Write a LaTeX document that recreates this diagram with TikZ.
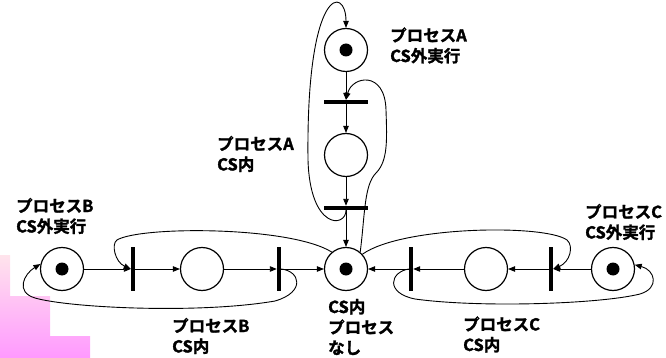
\documentclass[tikz,border=0pt]{standalone}
\usepackage{fontspec}
\newfontfamily\jp{Noto Sans CJK JP Bold}[FakeBold=1.6]
\usetikzlibrary{arrows.meta}
\definecolor{pinkTop}{RGB}{255,228,236}
\definecolor{pinkBot}{RGB}{255,153,255}
\begin{document}
\begin{tikzpicture}[x=1pt,y=-1pt,
  place/.style={circle, draw, line width=1.2pt, minimum size=43pt, inner sep=0pt},
  token/.style={circle, fill, minimum size=13pt, inner sep=0pt},
  vbar/.style={rectangle, fill, minimum width=4pt, minimum height=44pt, inner sep=0pt},
  hbar/.style={rectangle, fill, minimum width=44pt, minimum height=4pt, inner sep=0pt},
  arr/.style={-{Triangle[length=7pt,width=5.5pt]}, line width=0.9pt},
  lbl/.style={anchor=base west, inner sep=0pt, font=\jp\fontsize{16.5}{20.5}\selectfont}]
\useasboundingbox (0,0) rectangle (666,358);
% pink background block
\shade[top color=pinkTop, bottom color=pinkBot]
  (0,255) -- (10,255) -- (10,296) -- (50,296) -- (50,336) -- (90,336) -- (90,358) -- (0,358) -- cycle;
% places
\node[place] (pA0) at (346,50) {};
\node[place] (pA1) at (346,155) {};
\node[place] (pCS) at (346,269) {};
\node[place] (pBout) at (62,269) {};
\node[place] (pBin) at (202,269) {};
\node[place] (pCin) at (486,269) {};
\node[place] (pCout) at (613,269) {};
% tokens
\node[token] (kA0) at (pA0) {};
\node[token] (kCS) at (pCS) {};
\node[token] (kBout) at (pBout) {};
\node[token] (kCout) at (pCout) {};
% transitions
\node[hbar] (tA1) at (346,102) {};
\node[hbar] (tA2) at (346,208) {};
\node[vbar] (tB1) at (133,269) {};
\node[vbar] (tB2) at (279,269) {};
\node[vbar] (tC1) at (411,269) {};
\node[vbar] (tC2) at (551,269) {};
% straight arcs
\draw[arr] (pA0) -- (tA1);
\draw[arr] (tA1) -- (pA1);
\draw[arr] (pA1) -- (tA2);
\draw[arr] (tA2) -- (pCS);
\draw[arr] (pBout) -- (tB1);
\draw[arr] (tB1) -- (pBin);
\draw[arr] (pBin) -- (tB2);
\draw[arr] (tB2) -- (pCS);
\draw[arr] (pCout) -- (tC2);
\draw[arr] (tC2) -- (pCin);
\draw[arr] (pCin) -- (tC1);
\draw[arr] (tC1) -- (pCS);
% curved arcs
\draw[arr] (tA2.south) .. controls (346,228) and (310,230) .. (308,160)
  .. controls (306,-15) and (346,-15) .. (pA0.north);
\draw[arr] (pCS.50) .. controls (365,215) and (364,185) .. (376,173)
  .. controls (388,161) and (387,140) .. (386,110)
  .. controls (385,70) and (352,76) .. (tA1.north);
\draw[arr] (pCS.130) .. controls (290,226) and (140,226) .. (117,240)
  .. controls (111,244) and (115,262) .. (tB1.west);
\draw[arr] (tB2.east) .. controls (300,271) and (306,292) .. (275,301)
  .. controls (200,314) and (70,308) .. (35,298)
  .. controls (15,292) and (24,274) .. (pBout.167);
\draw[arr] (pCS.42) .. controls (402,226) and (545,224) .. (567,240)
  .. controls (574,246) and (570,262) .. (tC2.east);
\draw[arr] (tC1.west) .. controls (390,272) and (385,293) .. (415,299)
  .. controls (480,308) and (600,304) .. (640,294)
  .. controls (660,288) and (655,270) .. (pCout.11);
% labels
\node[lbl] (lAout) at (390,41.5) {\begin{tabular}[t]{@{}l@{}}プロセスA\\CS外実行\end{tabular}};
\node[lbl] (lAin) at (217,150) {\begin{tabular}[t]{@{}l@{}}プロセスA\\CS内\end{tabular}};
\node[lbl] (lBout) at (16,212) {\begin{tabular}[t]{@{}l@{}}プロセスB\\CS外実行\end{tabular}};
\node[lbl] (lBin) at (172,332) {\begin{tabular}[t]{@{}l@{}}プロセスB\\CS内\end{tabular}};
\node[lbl] (lCin) at (463,330.5) {\begin{tabular}[t]{@{}l@{}}プロセスC\\CS内\end{tabular}};
\node[lbl] (lCout) at (585,218) {\begin{tabular}[t]{@{}l@{}}プロセスC\\CS外実行\end{tabular}};
\node[lbl] (lCS) at (328,313) {\begin{tabular}[t]{@{}l@{}}CS内\\プロセス\\なし\end{tabular}};
\end{tikzpicture}
\end{document}
